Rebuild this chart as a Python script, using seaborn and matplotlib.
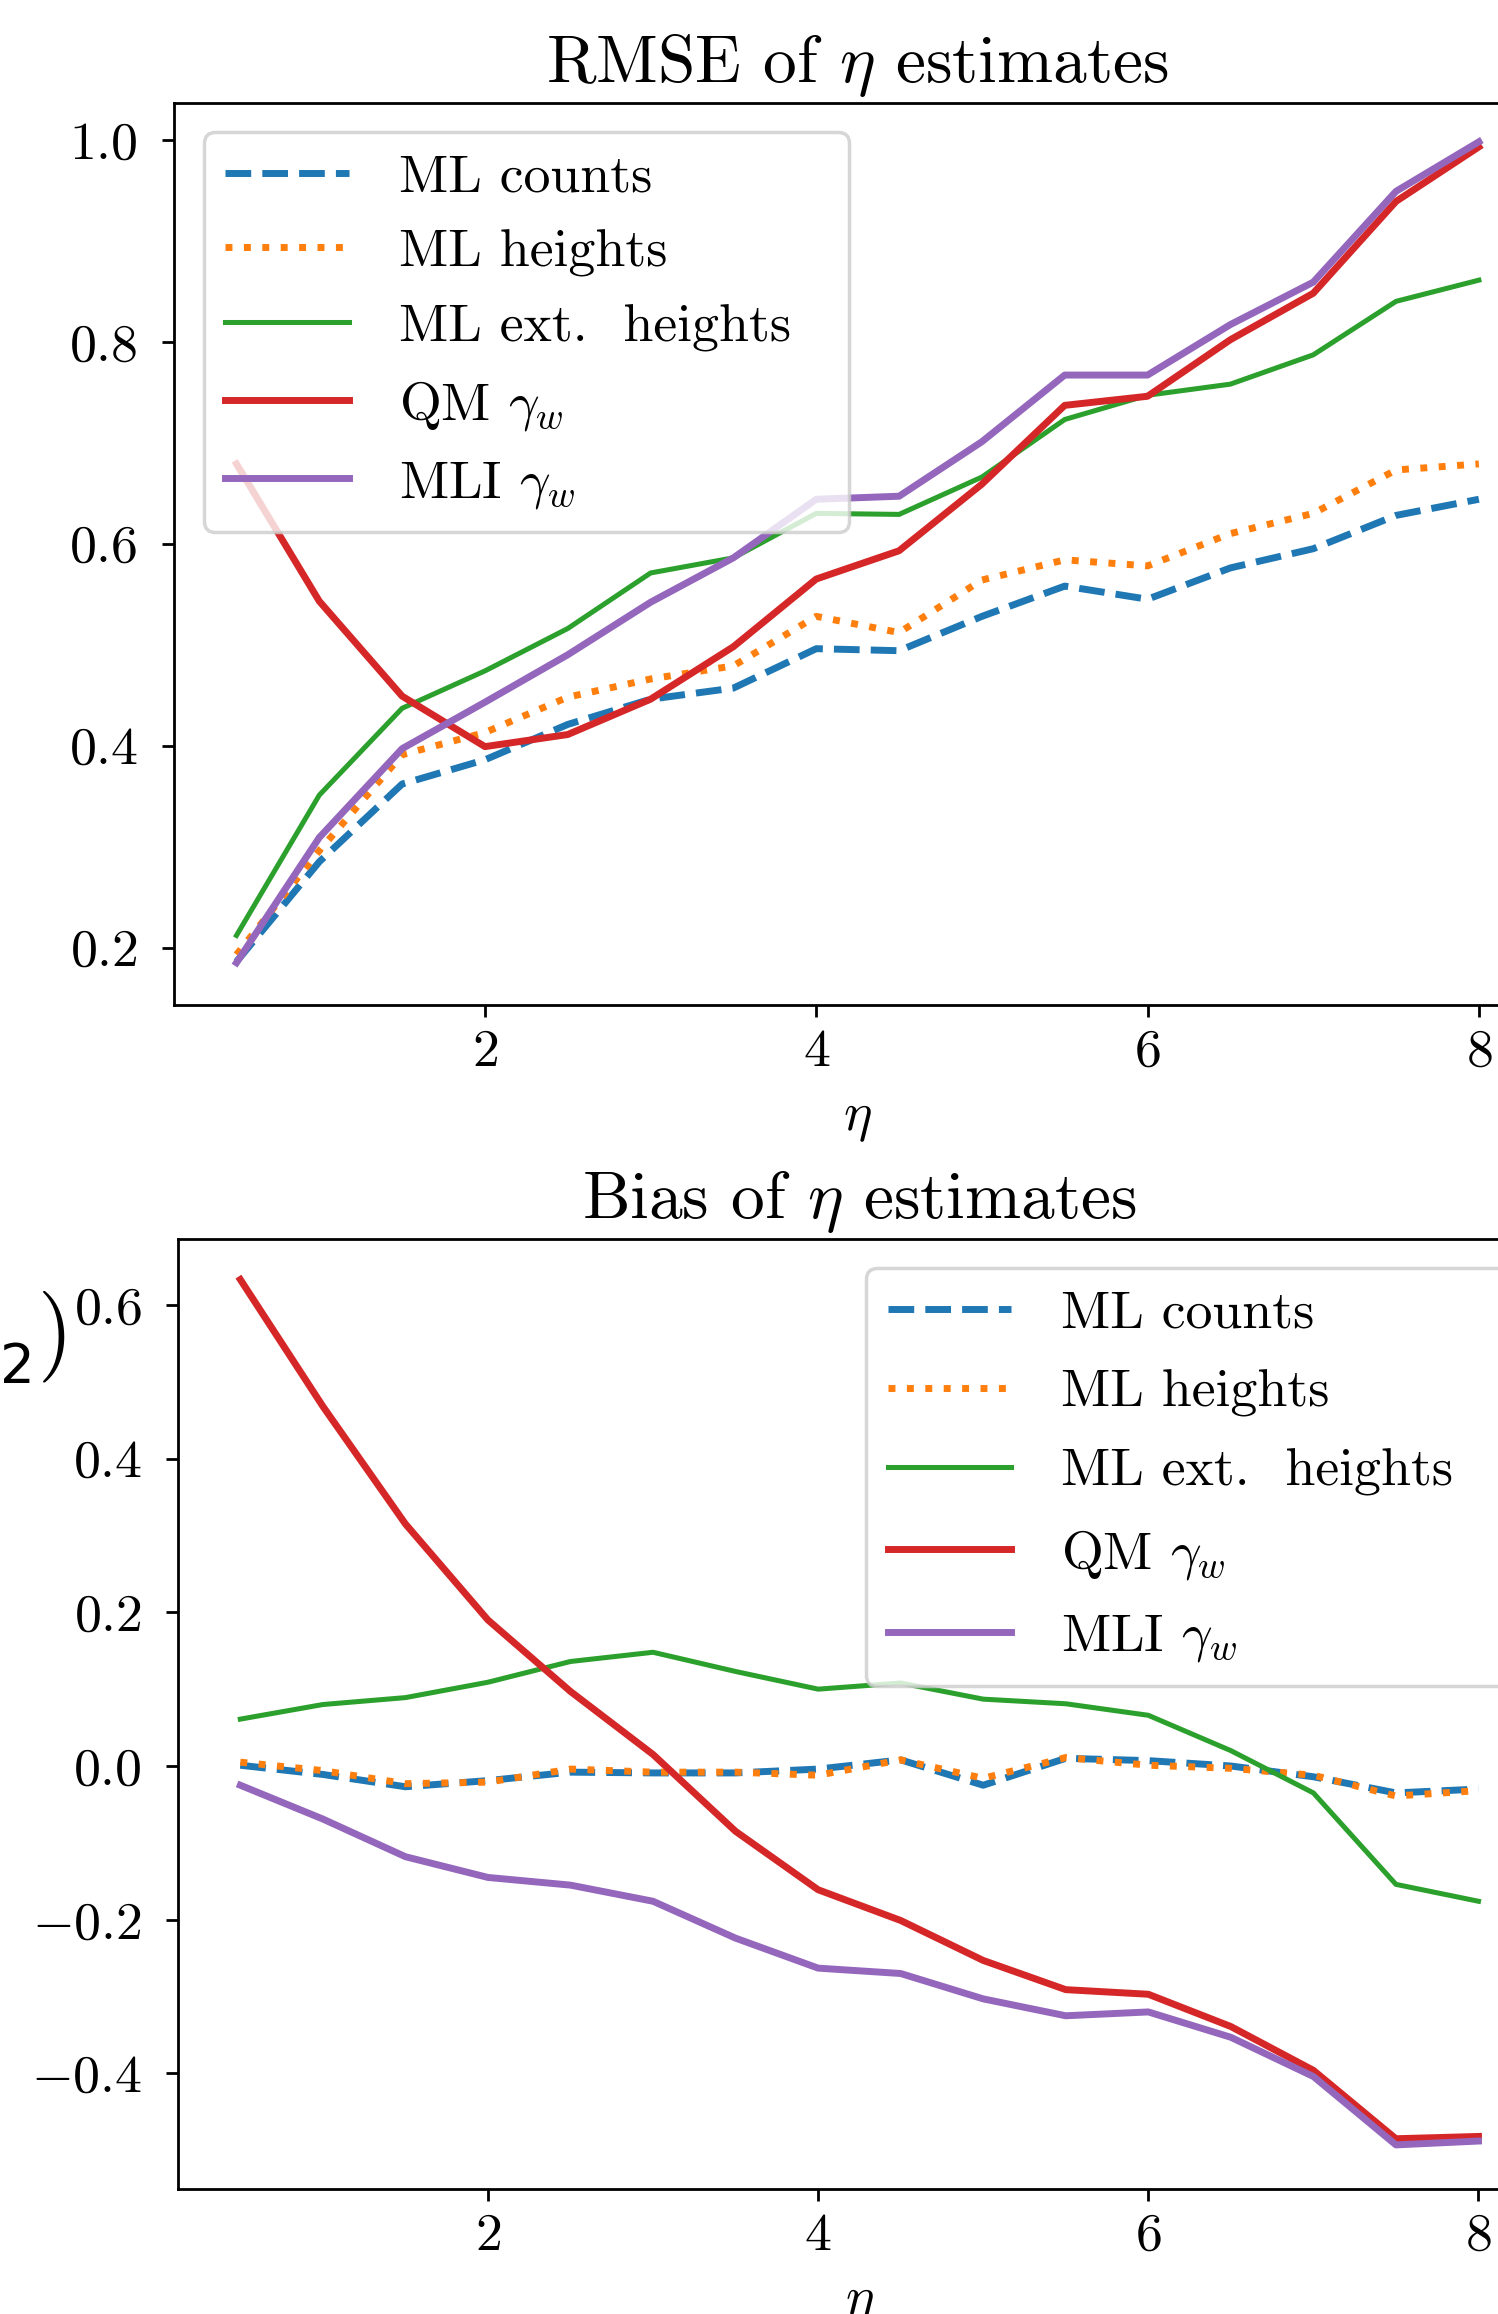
import numpy as np
import pandas as pd
import matplotlib
matplotlib.use("Agg")
import matplotlib.pyplot as plt
import seaborn as sns

# ── data ─────────────────────────────────────────────────────────────────────
eta = [0.5, 1.0, 1.5, 2.0, 2.5, 3.0, 3.5, 4.0, 4.5, 5.0, 5.5, 6.0, 6.5, 7.0, 7.5, 8.0]

labels = ["ML counts", "ML heights", "ML ext.  heights  ", r"QM $\gamma_w$", r"MLI $\gamma_w$"]

rmse_counts = [0.186, 0.285, 0.362, 0.386, 0.421, 0.446, 0.457, 0.496, 0.494, 0.528,
               0.558, 0.545, 0.576, 0.595, 0.628, 0.644]
rmse_heights = [0.193, 0.296, 0.391, 0.413, 0.448, 0.466, 0.479, 0.528, 0.512, 0.564,
                0.584, 0.578, 0.610, 0.630, 0.673, 0.679]
rmse_ext = [0.212, 0.351, 0.437, 0.474, 0.516, 0.571, 0.586, 0.630, 0.629, 0.666,
            0.723, 0.747, 0.758, 0.787, 0.840, 0.861]
rmse_qm = [0.679, 0.543, 0.449, 0.399, 0.411, 0.446, 0.498, 0.565, 0.593, 0.659,
           0.737, 0.746, 0.802, 0.848, 0.939, 0.993]
rmse_mli = [0.185, 0.309, 0.397, 0.443, 0.490, 0.542, 0.586, 0.644, 0.647, 0.701,
            0.767, 0.767, 0.817, 0.859, 0.949, 0.998]

bias_counts = [0.001, -0.011, -0.027, -0.019, -0.008, -0.009, -0.009, -0.004, 0.008, -0.025,
               0.010, 0.007, 0.000, -0.014, -0.035, -0.030]
bias_heights = [0.005, -0.006, -0.023, -0.021, -0.004, -0.008, -0.008, -0.012, 0.008, -0.016,
                0.011, 0.001, -0.003, -0.012, -0.039, -0.032]
bias_ext = [0.061, 0.080, 0.089, 0.109, 0.136, 0.148, 0.123, 0.100, 0.108, 0.087,
            0.081, 0.066, 0.020, -0.035, -0.154, -0.176]
bias_qm = [0.633, 0.468, 0.315, 0.190, 0.097, 0.015, -0.085, -0.161, -0.201, -0.253,
           -0.291, -0.297, -0.339, -0.396, -0.485, -0.482]
bias_mli = [-0.025, -0.069, -0.118, -0.145, -0.155, -0.176, -0.224, -0.263, -0.270, -0.303,
            -0.325, -0.320, -0.353, -0.404, -0.493, -0.488]

# ── style ────────────────────────────────────────────────────────────────────
plt.rcParams["font.family"] = "serif"
plt.rcParams["font.serif"] = ["cmr10", "DejaVu Serif"]
plt.rcParams["mathtext.fontset"] = "cm"
plt.rcParams["axes.formatter.use_mathtext"] = True
plt.rcParams["axes.unicode_minus"] = True
plt.rcParams["font.size"] = 15.5
plt.rcParams["ytick.major.pad"] = 7.0
plt.rcParams["axes.labelpad"] = 6.0

colors = ["#1f77b4", "#ff7f0e", "#2ca02c", "#d62728", "#9467bd"]
styles = ["--", ":", "-", "-", "-"]
widths = [2.0, 2.0, 1.45, 2.0, 2.0]

DPI = 250
fig = plt.figure(figsize=(1498 / DPI, 2314 / DPI), dpi=DPI)
ax1 = fig.add_axes([0.1164, 0.5659, 0.9123, 0.3897])
ax2 = fig.add_axes([0.1191, 0.05415, 0.9092, 0.4105])


def draw(ax, series, title, ylim, loc, spacing):
    for vals, lab, c, ls, lw in zip(series, labels, colors, styles, widths):
        df = pd.DataFrame({"eta": eta, "val": vals})
        sns.lineplot(data=df, x="eta", y="val", ax=ax, color=c, linestyle=ls,
                     lw=lw, label=lab, legend=False)
    ax.set_xlim(0.125, 8.375)
    ax.set_ylim(*ylim)
    ax.set_xticks([2, 4, 6, 8])
    ax.set_xlabel(r"$\eta$")
    ax.set_ylabel("")
    ax.set_title(title, fontsize=19.4)
    ax.legend(loc=loc, handlelength=2.3, handletextpad=0.93,
              borderaxespad=0.55, labelspacing=spacing)


draw(ax1, [rmse_counts, rmse_heights, rmse_ext, rmse_qm, rmse_mli],
     r"RMSE of $\eta$ estimates", (0.1436, 1.0367), "upper left", 0.5)
ax1.set_yticks([0.2, 0.4, 0.6, 0.8, 1.0])

draw(ax2, [bias_counts, bias_heights, bias_ext, bias_qm, bias_mli],
     r"Bias of $\eta$ estimates", (-0.550, 0.686), "upper right", 0.58)
ax2.set_yticks([-0.4, -0.2, 0.0, 0.2, 0.4, 0.6])

# fragment of a neighbouring label, cut off at the left edge
fig.text(0.0, 1 - 1383 / 2314, "2", family="DejaVu Sans", fontsize=15.8,
         va="baseline", ha="left")
fig.text(38 / 1498, 1 - 1360 / 2314, ")", fontsize=26, va="baseline", ha="left")

fig.savefig("out.png", dpi=DPI)
